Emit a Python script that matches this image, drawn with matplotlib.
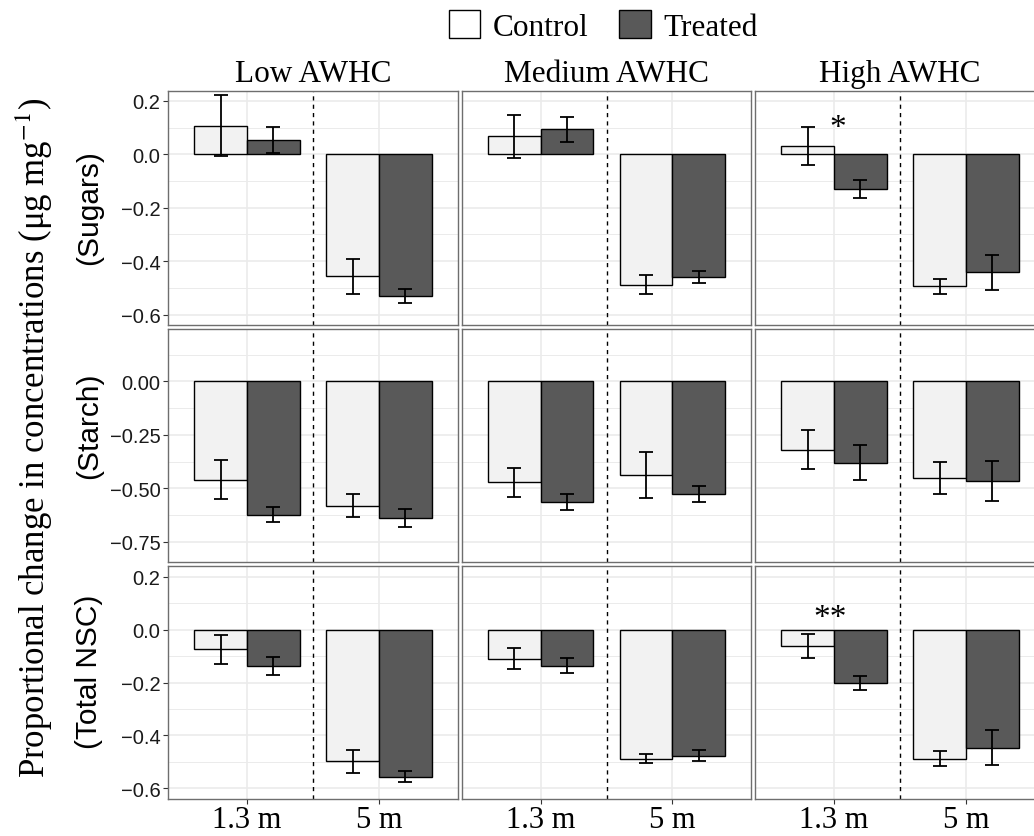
import numpy as np
import matplotlib
matplotlib.use("Agg")
import matplotlib.pyplot as plt
from matplotlib.patches import Patch

plt.rcParams['mathtext.fontset'] = 'stix'

# Sites, heights and nutrient rows
awhc_levels = ['Low AWHC', 'Medium AWHC', 'High AWHC']
heights = ['1.3 m', '5 m']
row_names = ['(Sugars)', '(Starch)', '(Total NSC)']

# Means and standard errors, ordered Low 1.3, Low 5, Medium 1.3, Medium 5, High 1.3, High 5
sugars_control = [0.107, -0.457, 0.067, -0.488, 0.031, -0.493]
sugars_control_se = [0.114, 0.065, 0.080, 0.036, 0.070, 0.028]
sugars_treated = [0.054, -0.530, 0.093, -0.458, -0.130, -0.442]
sugars_treated_se = [0.049, 0.027, 0.048, 0.022, 0.033, 0.064]

starch_control = [-0.459, -0.581, -0.472, -0.438, -0.319, -0.450]
starch_control_se = [0.091, 0.054, 0.067, 0.106, 0.092, 0.075]
starch_treated = [-0.623, -0.639, -0.564, -0.528, -0.380, -0.466]
starch_treated_se = [0.034, 0.042, 0.038, 0.038, 0.082, 0.094]

nsc_control = [-0.074, -0.499, -0.110, -0.488, -0.061, -0.489]
nsc_control_se = [0.055, 0.043, 0.040, 0.017, 0.045, 0.028]
nsc_treated = [-0.137, -0.556, -0.137, -0.478, -0.203, -0.447]
nsc_treated_se = [0.033, 0.021, 0.028, 0.021, 0.027, 0.067]

# significance marks: (row, column, x, y, text)
sig_marks = [(0, 2, 1.03, 0.10, '*'), (2, 2, 0.97, 0.045, '**')]

rows = [
    (sugars_control, sugars_control_se, sugars_treated, sugars_treated_se),
    (starch_control, starch_control_se, starch_treated, starch_treated_se),
    (nsc_control, nsc_control_se, nsc_treated, nsc_treated_se),
]
row_ylims = [(-0.637, 0.237), (-0.845, 0.248), (-0.641, 0.243)]
row_major = [[0.2, 0.0, -0.2, -0.4, -0.6], [0.0, -0.25, -0.5, -0.75], [0.2, 0.0, -0.2, -0.4, -0.6]]
row_minor = [[0.1, -0.1, -0.3, -0.5], [0.125, -0.125, -0.375, -0.625], [0.1, -0.1, -0.3, -0.5]]
row_fmt = ['{:.1f}', '{:.2f}', '{:.1f}']

ctrl_color = '#F2F2F2'
trt_color = '#595959'
serif = 'Liberation Serif'
sans = 'Liberation Sans'

W, H = 1034, 837
fig = plt.figure(figsize=(W / 100, H / 100), dpi=100)

col_left = [168, 461.5, 755]
col_w = 290
row_top = [92, 329.5, 566.5]
row_h = 233.5


def px_axes(left, top, width, height):
    return fig.add_axes([left / W, 1 - (top + height) / H, width / W, height / H])


x = np.arange(1, len(heights) + 1)
for r, (c_mean, c_se, t_mean, t_se) in enumerate(rows):
    for c in range(len(awhc_levels)):
        ax = px_axes(col_left[c], row_top[r], col_w, row_h)
        cm = c_mean[2 * c:2 * c + 2]
        cs = c_se[2 * c:2 * c + 2]
        tm = t_mean[2 * c:2 * c + 2]
        ts = t_se[2 * c:2 * c + 2]

        ax.bar(x - 0.2, cm, width=0.4, color=ctrl_color, edgecolor='black', linewidth=1.0, zorder=2)
        ax.bar(x + 0.2, tm, width=0.4, color=trt_color, edgecolor='black', linewidth=1.0, zorder=2)
        ax.errorbar(x - 0.2, cm, yerr=cs, fmt='none', ecolor='black', elinewidth=1.3,
                    capsize=5, capthick=1.3, zorder=3)
        ax.errorbar(x + 0.2, tm, yerr=ts, fmt='none', ecolor='black', elinewidth=1.3,
                    capsize=5, capthick=1.3, zorder=3)
        ax.axvline(1.5, color='black', linestyle=(0, (3, 3)), linewidth=1.0, zorder=1)

        ax.set_xlim(0.4, 2.6)
        ax.set_ylim(*row_ylims[r])
        ax.set_xticks(x)
        ax.set_yticks(row_major[r])
        ax.set_yticks(row_minor[r], minor=True)
        ax.set_axisbelow(True)
        ax.grid(which='major', color='#EBEBEB', linewidth=1.2)
        ax.grid(which='minor', axis='y', color='#EBEBEB', linewidth=0.7)
        for sp in ax.spines.values():
            sp.set_color('#6E6E6E')
            sp.set_linewidth(1.0)

        ax.tick_params(which='minor', length=0)
        ax.tick_params(which='major', color='#333333', width=0.8, length=3.5)
        if c == 0:
            labels = [row_fmt[r].format(v).replace('-', '\u2212') for v in row_major[r]]
            ax.set_yticklabels(labels, fontsize=14.5, family=sans, color='#1A1A1A')
            ax.tick_params(axis='y', pad=2)
        else:
            ax.tick_params(axis='y', length=0, labelleft=False)
        if r == len(rows) - 1:
            ax.set_xticklabels(heights, fontsize=22, family=serif)
            ax.tick_params(axis='x', pad=1)
        else:
            ax.tick_params(axis='x', length=0, labelbottom=False)

        for (sr, sc, sx, sy, txt) in sig_marks:
            if sr == r and sc == c:
                ax.text(sx, sy, txt, ha='center', va='center', fontsize=24, family=serif, zorder=4)

# facet titles
for c, name in enumerate(awhc_levels):
    fig.text((col_left[c] + col_w / 2) / W, 1 - 82 / H, name, ha='center', va='baseline',
             fontsize=22.5, family=serif)

# row labels
row_label_y = [208, 426, 672]
for name, yc in zip(row_names, row_label_y):
    fig.text(89 / W, 1 - yc / H, name, rotation=90, ha='center', va='center',
             fontsize=21.5, family=sans)

fig.text(34 / W, 1 - 438 / H, 'Proportional change in concentrations (μg mg$^{-1}$)',
         rotation=90, ha='center', va='center', fontsize=25, family=serif)

handles = [Patch(facecolor='white', edgecolor='black', linewidth=1.0, label='Control'),
           Patch(facecolor=trt_color, edgecolor='black', linewidth=1.0, label='Treated')]
fig.legend(handles=handles, loc='center', bbox_to_anchor=(603 / W, 1 - 27 / H), ncol=2,
           frameon=False, prop={'family': serif, 'size': 22.5}, handlelength=1.0,
           handleheight=1.0, handletextpad=0.4, columnspacing=1.0, borderpad=0)

fig.savefig('out.png', dpi=100)
